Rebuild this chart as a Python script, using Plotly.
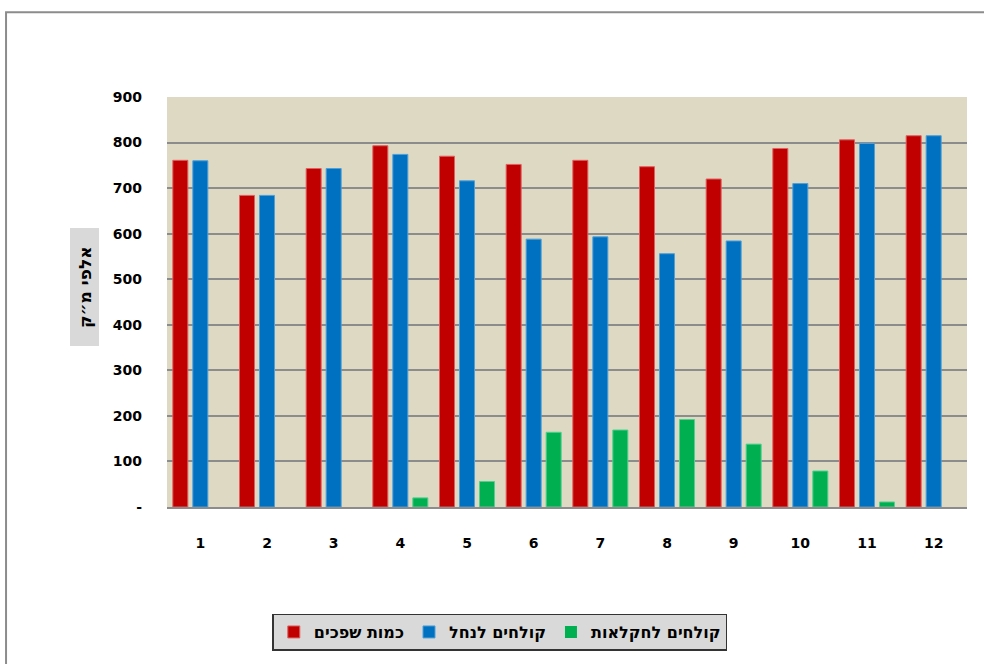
import plotly.graph_objects as go

# Monthly volumes, thousands of cubic metres
months = [str(m) for m in range(1, 13)]
sewage_total = [761, 684, 743, 793, 770, 752, 761, 747, 720, 787, 806, 815]
effluent_stream = [760, 684, 743, 774, 716, 588, 593, 556, 584, 710, 798, 815]
effluent_agri = [0, 0, 0, 20, 56, 164, 169, 192, 138, 79, 11, 0]

series_names = ["כמות שפכים", "קולחים לנחל", "קולחים לחקלאות"]
series_colors = ["#C00000", "#0070C0", "#00B050"]
edge_colors = ["#E06060", "#4F9FD8", "#50D090"]

y_ticks = [0, 100, 200, 300, 400, 500, 600, 700, 800, 900]
y_ticktext = ["-"] + [str(v) for v in y_ticks[1:]]
y_title = "אלפי מ״ק"

FONT = "DejaVu Sans"

fig = go.Figure()
for name, vals, col, edge in zip(series_names,
                                 [sewage_total, effluent_stream, effluent_agri],
                                 series_colors, edge_colors):
    # no outline on empty bars so zero months stay blank
    widths = [1 if v > 0 else 0 for v in vals]
    fig.add_trace(go.Bar(
        x=months, y=vals, name=name,
        marker=dict(color=col, line=dict(color=edge, width=widths)),
    ))

fig.update_layout(
    width=984, height=664,
    margin=dict(l=167, r=17, t=97, b=157),
    paper_bgcolor="white",
    plot_bgcolor="#DDD9C3",
    barmode="group",
    bargap=0.1,
    bargroupgap=0.25,
    showlegend=True,
    legend=dict(
        orientation="h",
        x=0.416, xanchor="center",
        y=-0.305, yanchor="middle",
        bgcolor="#D9D9D9",
        bordercolor="#333333",
        borderwidth=1.5,
        font=dict(family=FONT, size=16, color="black", weight="bold"),
        itemwidth=30,
        tracegroupgap=0,
    ),
    xaxis=dict(
        type="category",
        tickfont=dict(family=FONT, size=14, color="black", weight="bold"),
        showline=True, linecolor="#8C8C8C", linewidth=2,
        showgrid=False, ticks="", ticklabelstandoff=22,
    ),
    yaxis=dict(
        range=[0, 900],
        tickvals=y_ticks, ticktext=y_ticktext,
        tickfont=dict(family=FONT, size=14, color="black", weight="bold"),
        showgrid=True, gridcolor="#8C8C8C", gridwidth=2,
        zeroline=False, showline=False, ticks="",
        ticklabelstandoff=24,
    ),
    shapes=[
        # outer chart frame
        dict(type="rect", xref="paper", yref="paper",
             x0=-0.2012, x1=1.2, y0=-0.6, y1=1.207,
             line=dict(color="#8C8C8C", width=2),
             fillcolor="rgba(0,0,0,0)", layer="below"),
        # grey panel behind the axis title
        dict(type="rect", xref="paper", yref="paper",
             x0=(70 - 167) / 800, x1=(99 - 167) / 800,
             y0=(507 - 346) / 410, y1=(507 - 228) / 410,
             line=dict(width=0), fillcolor="#D9D9D9", layer="below"),
    ],
    annotations=[dict(
        text=y_title, xref="paper", yref="paper",
        x=(85 - 167) / 800, y=(507 - 287) / 410,
        xanchor="center", yanchor="middle",
        showarrow=False, textangle=-90,
        font=dict(family=FONT, size=17, color="black", weight="bold"),
    )],
)

fig.write_html("out.html")
